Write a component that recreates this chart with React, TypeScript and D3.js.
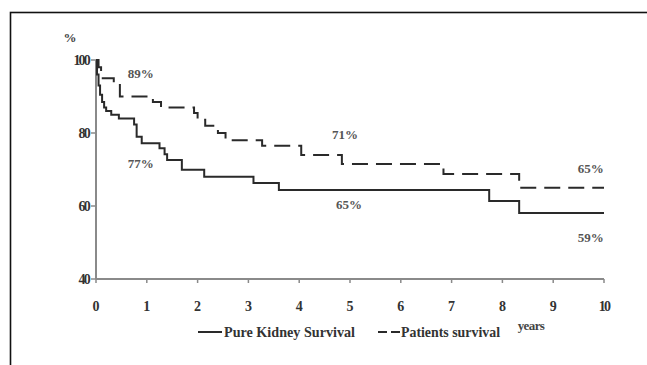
import * as d3 from "d3"

// Kaplan-Meier steps
const patientYears = [0, 0.05, 0.1, 0.35, 0.47, 1.12, 1.28, 1.93, 2.0, 2.15, 2.4, 2.55, 3.27, 4.04, 4.84, 6.84, 8.33, 10]
const patientSurvival = [100, 98, 95, 93.5, 90, 88.5, 87, 85.5, 83.6, 82, 80, 78, 76.5, 74, 71.5, 68.8, 65, 65]

const kidneyYears = [0, 0.02, 0.05, 0.08, 0.12, 0.16, 0.2, 0.3, 0.45, 0.75, 0.8, 0.9, 1.25, 1.35, 1.4, 1.69, 2.13, 3.1, 3.6, 7.74, 8.33, 10]
const kidneySurvival = [100, 96, 93, 90.5, 88.5, 87, 86, 85, 84, 82.3, 79, 77.2, 75.8, 74.2, 72.6, 69.9, 68, 66.3, 64.4, 61.4, 58.1, 58.1]

const xTicks = [0, 1, 2, 3, 4, 5, 6, 7, 8, 9, 10]
const yTicks = [40, 60, 80, 100]

// annotations: [year, value, text]
const notes: [number, number, string][] = [
  [0.88, 96.4, "89%"],
  [0.88, 71.6, "77%"],
  [4.9, 79.5, "71%"],
  [4.98, 60.4, "65%"],
  [9.74, 70.4, "65%"],
  [9.74, 51.3, "59%"],
]

const W = 647
const H = 365

export default function App() {
  const x = d3.scaleLinear().domain([0, 10]).range([96, 604])
  const y = d3.scaleLinear().domain([40, 100]).range([279, 60])

  const line = d3
    .line<[number, number]>()
    .x((d) => x(d[0]))
    .y((d) => y(d[1]))
    .curve(d3.curveStepAfter)

  const patients = patientYears.map((t, i) => [t, patientSurvival[i]] as [number, number])
  const kidney = kidneyYears.map((t, i) => [t, kidneySurvival[i]] as [number, number])

  const txt = { fontFamily: "'Liberation Serif', 'DejaVu Serif', serif" }
  const axisColor = "#8a8a8a"
  const ink = "#2a2a2a"

  return (
    <svg width={W} height={H} style={{ position: "absolute", left: 0, top: 0 }}>
      <rect x={0} y={0} width={W} height={H} fill="#fff" />
      {/* frame, cut off on the right and bottom */}
      <rect x={10.5} y={12.5} width={W + 20} height={H + 20} fill="none" stroke="#111" strokeWidth={1.6} />

      {/* axes */}
      <line x1={x(0)} x2={x(0)} y1={y(100)} y2={y(40)} stroke={axisColor} strokeWidth={2} />
      <line x1={x(0)} x2={x(10)} y1={y(40)} y2={y(40)} stroke={axisColor} strokeWidth={2} />
      {yTicks.map((t) => (
        <g key={"y" + t}>
          <line x1={x(0) - 5} x2={x(0)} y1={y(t)} y2={y(t)} stroke={axisColor} strokeWidth={1.5} />
          <text x={x(0) - 7} y={y(t)} dy="0.35em" textAnchor="end" fontSize={14} fontWeight="bold" fill="#333" letterSpacing={-1.8} style={txt}>
            {t}
          </text>
        </g>
      ))}
      <text x={70} y={42} textAnchor="middle" fontSize={13} fontWeight="bold" fill="#444" style={txt}>
        %
      </text>
      {xTicks.map((t) => (
        <g key={"x" + t}>
          <line x1={x(t)} x2={x(t)} y1={y(40)} y2={y(40) + 4} stroke={axisColor} strokeWidth={1.5} />
          <text x={x(t)} y={306} dy="0.35em" textAnchor="middle" fontSize={14} fontWeight="bold" fill="#333" letterSpacing={t === 10 ? -1.8 : 0} style={txt}>
            {t}
          </text>
        </g>
      ))}
      <text x={531} y={325} dy="0.35em" textAnchor="middle" fontSize={13} fontWeight="bold" fill="#444" letterSpacing={-0.6} style={txt}>
        years
      </text>

      {/* curves */}
      <path d={line(kidney) ?? ""} fill="none" stroke={ink} strokeWidth={2} />
      <path d={line(patients) ?? ""} fill="none" stroke={ink} strokeWidth={2} strokeDasharray="16,8" />

      {/* annotations */}
      {notes.map(([t, v, s], i) => (
        <text key={"n" + i} x={x(t)} y={y(v)} dy="0.35em" textAnchor="middle" fontSize={13} fontWeight="bold" fill="#555" style={txt}>
          {s}
        </text>
      ))}

      {/* legend */}
      <line x1={198} x2={222} y1={332} y2={332} stroke={ink} strokeWidth={2} />
      <text x={224} y={332} dy="0.35em" fontSize={14} fontWeight="bold" fill="#333" textLength={131} lengthAdjust="spacingAndGlyphs" style={txt}>
        Pure Kidney Survival
      </text>
      <line x1={378} x2={400} y1={332} y2={332} stroke={ink} strokeWidth={2} strokeDasharray="9,4" />
      <text x={401} y={332} dy="0.35em" fontSize={14} fontWeight="bold" fill="#333" textLength={99} lengthAdjust="spacingAndGlyphs" style={txt}>
        Patients survival
      </text>
    </svg>
  )
}
